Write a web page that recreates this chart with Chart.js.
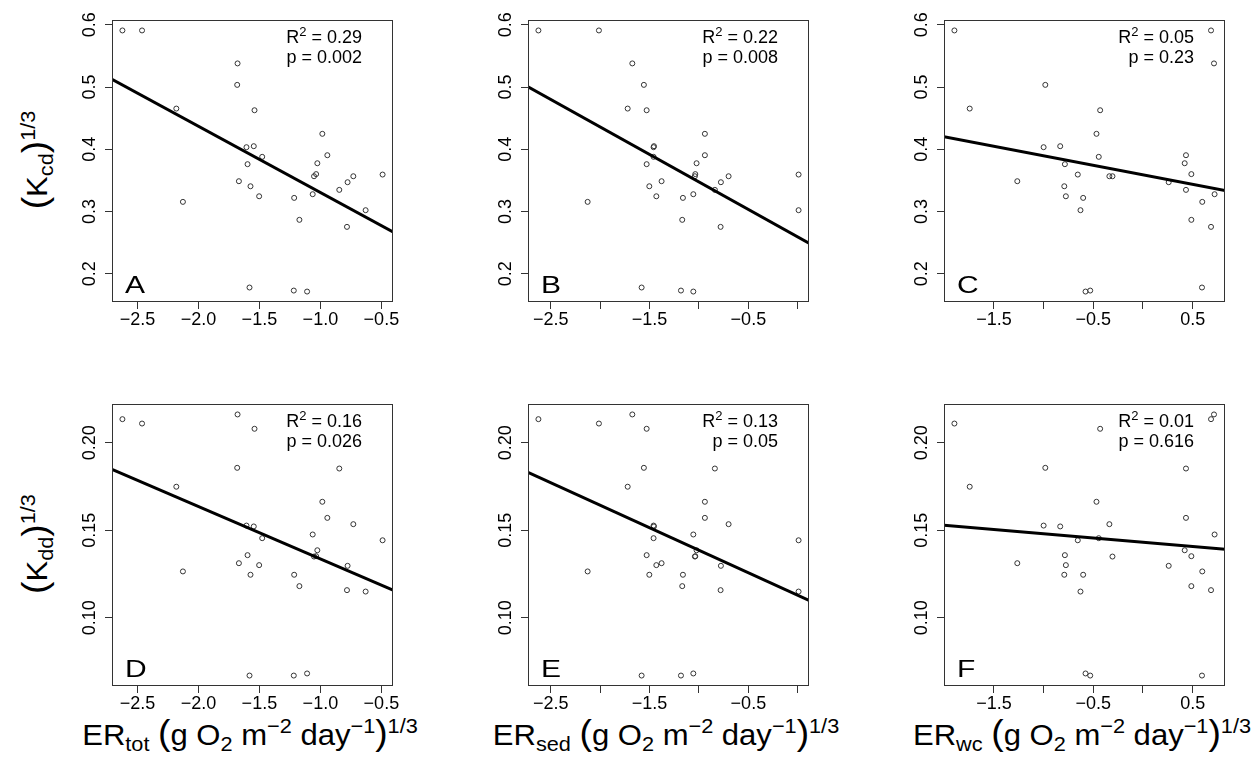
<!DOCTYPE html>
<html lang="en">
<head>
<meta charset="UTF-8">
<title>Kcd and Kdd against ER</title>
<script src="https://cdn.jsdelivr.net/npm/chart.js"></script>
<style>
    body { margin: 0; background: #fff; }
    #fig { position: relative; width: 1258px; height: 757px; overflow: hidden;
           font-family: "Liberation Sans", Arial, sans-serif; color: #000; }
    #fig canvas { position: absolute; }
    .xtitle, .ytitle { position: absolute; white-space: nowrap; font-size: 29px; line-height: 29px; }
    .xtitle { width: 420px; text-align: center; transform: scaleX(1.07); }
    .ytitle { transform: translate(-50%, -50%) rotate(-90deg) scaleX(1.07); }
    sub, sup { font-size: 0.7em; line-height: 0; }
    sub { vertical-align: -0.3em; }
    sup { vertical-align: 0.6em; }
    .par { font-size: 1.2em; }
</style>
</head>
<body>
<div id="fig">
    <div class="ytitle" style="left:36px; top:160px;"><span class="par">(</span>K<sub>cd</sub><span class="par">)</span><sup>1/3</sup></div>
    <div class="ytitle" style="left:36px; top:544px;"><span class="par">(</span>K<sub>dd</sub><span class="par">)</span><sup>1/3</sup></div>
    <div class="xtitle" style="left:40px; top:718px;">ER<sub>tot</sub> <span class="par">(</span>g O<sub>2</sub> m<sup>&minus;2</sup> day<sup>&minus;1</sup><span class="par">)</span><sup>1/3</sup></div>
    <div class="xtitle" style="left:456px; top:718px;">ER<sub>sed</sub> <span class="par">(</span>g O<sub>2</sub> m<sup>&minus;2</sup> day<sup>&minus;1</sup><span class="par">)</span><sup>1/3</sup></div>
    <div class="xtitle" style="left:872px; top:718px;">ER<sub>wc</sub> <span class="par">(</span>g O<sub>2</sub> m<sup>&minus;2</sup> day<sup>&minus;1</sup><span class="par">)</span><sup>1/3</sup></div>
</div>

<script>
    // one value per site, same order in every array
    const kcd = [0.591, 0.591, 0.538, 0.5035, 0.4654, 0.4627, 0.4248, 0.4049, 0.4033, 0.3904, 0.3878,
                 0.3775, 0.376, 0.3593, 0.360, 0.3566, 0.3566, 0.3486, 0.347, 0.3405, 0.3347, 0.3277,
                 0.3244, 0.3218, 0.3154, 0.302, 0.2865, 0.2752, 0.1777, 0.1728, 0.1712];
    const kdd = [0.2135, 0.2110, 0.2162, 0.1857, 0.1749, 0.2080, 0.1663, 0.1522, 0.1527, 0.1571, 0.1455,
                 0.1386, 0.1358, 0.1443, 0.1352, 0.1350, 0.1535, 0.1312, 0.1297, 0.1246, 0.1853, 0.1476,
                 0.1301, 0.1246, 0.1265, 0.1150, 0.1181, 0.1158, 0.0670, 0.0670, 0.0682];
    const erTot = [-2.623, -2.462, -1.679, -1.682, -2.181, -1.540, -0.984, -1.546, -1.606, -0.943, -1.477,
                   -1.025, -1.597, -0.490, -1.035, -1.052, -0.730, -1.668, -0.777, -1.573, -0.845, -1.063,
                   -1.502, -1.215, -2.127, -0.629, -1.172, -0.782, -1.581, -1.218, -1.109];
    const erSed = [-2.624, -2.012, -1.674, -1.557, -1.721, -1.529, -0.940, -1.455, -1.459, -0.940, -1.459,
                   -1.024, -1.529, 0.008, -1.037, -1.041, -0.700, -1.378, -0.778, -1.502, -0.839, -1.057,
                   -1.431, -1.162, -2.126, 0.008, -1.169, -0.781, -1.580, -1.182, -1.057];
    const erWc = [0.685, -1.898, 0.715, -0.983, -1.744, -0.431, -0.468, -0.833, -1.000, 0.433, -0.445,
                  0.420, -0.786, -0.656, 0.487, -0.307, -0.338, -1.265, 0.259, -0.792, 0.433, 0.721,
                  -0.776, -0.602, 0.597, -0.629, 0.487, 0.685, 0.594, -0.531, -0.578];

    // fitted lines [intercept, slope], panels A-F
    const fits = [[0.224, -0.1065], [0.2588, -0.0885], [0.359, -0.0306],
                  [0.1037, -0.02995], [0.1129, -0.0257], [0.1432, -0.00486]];
    const r2Text = ['0.29', '0.22', '0.05', '0.16', '0.13', '0.01'];
    const pText = ['0.002', '0.008', '0.23', '0.026', '0.05', '0.616'];
    const letters = ['A', 'B', 'C', 'D', 'E', 'F'];

    // ticks and their labels ('' = tick without label)
    const totTicks = [-2.5, -2.0, -1.5, -1.0, -0.5];
    const totLabels = ['\u22122.5', '\u22122.0', '\u22121.5', '\u22121.0', '\u22120.5'];
    const sedTicks = [-2.5, -2.0, -1.5, -1.0, -0.5, 0.0];
    const sedLabels = ['\u22122.5', '', '\u22121.5', '', '\u22120.5', ''];
    const wcTicks = [-1.5, -1.0, -0.5, 0.0, 0.5];
    const wcLabels = ['\u22121.5', '', '\u22120.5', '', '0.5'];
    const kcdTicks = [0.2, 0.3, 0.4, 0.5, 0.6];
    const kcdLabels = ['0.2', '0.3', '0.4', '0.5', '0.6'];
    const kddTicks = [0.10, 0.15, 0.20];
    const kddLabels = ['0.10', '0.15', '0.20'];

    // layout
    const boxLeft = [112, 528, 944];
    const boxTop = [20, 404];
    const boxW = 281, boxH = 282;
    const yAxisW = 60, xAxisH = 45, padTop = 20, padRight = 20;

    Chart.defaults.font.family = '"Liberation Sans", Arial, sans-serif';
    Chart.defaults.font.size = 18;
    Chart.defaults.color = '#000';

    function rRange(v) {
        const lo = Math.min(...v), hi = Math.max(...v), d = (hi - lo) * 0.04;
        return [lo - d, hi + d];
    }

    const frameAndText = {
        id: 'frameAndText',
        afterDatasetsDraw(chart) {
            const a = chart.chartArea, ctx = chart.ctx, o = chart.options.plugins.frameAndText;
            ctx.save();
            ctx.strokeStyle = '#333';
            ctx.lineWidth = 1;
            ctx.strokeRect(Math.round(a.left) + 0.5, Math.round(a.top) + 0.5,
                           Math.round(a.right - a.left) - 1, Math.round(a.bottom - a.top) - 1);
            ctx.fillStyle = '#000';
            ctx.textBaseline = 'alphabetic';

            // panel letter, a little wide like the original
            ctx.save();
            ctx.translate(a.left + 13, a.bottom - 9);
            ctx.scale(1.25, 1);
            ctx.font = '24px "Liberation Sans", Arial, sans-serif';
            ctx.textAlign = 'left';
            ctx.fillText(o.letter, 0, 0);
            ctx.restore();

            const xr = a.right - 31;
            const big = '18px "Liberation Sans", Arial, sans-serif';
            const small = '13px "Liberation Sans", Arial, sans-serif';
            ctx.font = big;
            const tail = ' = ' + o.r2;
            const wTail = ctx.measureText(tail).width;
            const wR = ctx.measureText('R').width;
            ctx.font = small;
            const w2 = ctx.measureText('2').width;
            const x = xr - wTail - w2 - wR;
            ctx.font = big;
            ctx.textAlign = 'left';
            ctx.fillText('R', x, a.top + 23);
            ctx.font = small;
            ctx.fillText('2', x + wR, a.top + 16);
            ctx.font = big;
            ctx.fillText(tail, x + wR + w2, a.top + 23);
            ctx.textAlign = 'right';
            ctx.fillText('p = ' + o.p, xr, a.top + 43);
            ctx.restore();
        }
    };

    const panels = [
        { x: erTot, y: kcd, xt: totTicks, xl: totLabels, yt: kcdTicks, yl: kcdLabels },
        { x: erSed, y: kcd, xt: sedTicks, xl: sedLabels, yt: kcdTicks, yl: kcdLabels },
        { x: erWc,  y: kcd, xt: wcTicks,  xl: wcLabels,  yt: kcdTicks, yl: kcdLabels },
        { x: erTot, y: kdd, xt: totTicks, xl: totLabels, yt: kddTicks, yl: kddLabels },
        { x: erSed, y: kdd, xt: sedTicks, xl: sedLabels, yt: kddTicks, yl: kddLabels },
        { x: erWc,  y: kdd, xt: wcTicks,  xl: wcLabels,  yt: kddTicks, yl: kddLabels }
    ];

    const fig = document.getElementById('fig');

    panels.forEach((p, i) => {
        const col = i % 3, row = Math.floor(i / 3);
        const canvas = document.createElement('canvas');
        canvas.width = yAxisW + boxW + padRight;
        canvas.height = padTop + boxH + xAxisH;
        canvas.style.left = (boxLeft[col] - yAxisW) + 'px';
        canvas.style.top = (boxTop[row] - padTop) + 'px';
        fig.appendChild(canvas);

        const [xmin, xmax] = rRange(p.x);
        const [ymin, ymax] = rRange(p.y);
        const [b0, b1] = fits[i];
        const points = p.x.map((v, k) => ({ x: v, y: p.y[k] }));
        const yPad = row === 0 ? 2.5 : -2.5;

        new Chart(canvas, {
            type: 'scatter',
            data: {
                datasets: [{
                    data: [{ x: xmin, y: b0 + b1 * xmin }, { x: xmax, y: b0 + b1 * xmax }],
                    showLine: true,
                    borderColor: '#000',
                    borderWidth: 3,
                    pointRadius: 0
                }, {
                    data: points,
                    pointStyle: 'circle',
                    pointRadius: 2.5,
                    borderWidth: 1,
                    borderColor: '#333',
                    backgroundColor: 'rgba(0,0,0,0)'
                }]
            },
            options: {
                responsive: false,
                animation: false,
                events: [],
                layout: { padding: { top: padTop, right: padRight, left: 0, bottom: 0 } },
                plugins: {
                    legend: { display: false },
                    tooltip: { enabled: false },
                    frameAndText: { letter: letters[i], r2: r2Text[i], p: pText[i] }
                },
                scales: {
                    x: {
                        type: 'linear',
                        min: xmin,
                        max: xmax,
                        border: { display: false },
                        grid: { drawOnChartArea: false, tickLength: 7, color: '#333' },
                        afterBuildTicks: ax => { ax.ticks = p.xt.map(v => ({ value: v })); },
                        afterFit: ax => { ax.height = xAxisH; },
                        ticks: { padding: 0, maxRotation: 0, autoSkip: false,
                                 callback: (v, k) => p.xl[k] }
                    },
                    y: {
                        type: 'linear',
                        min: ymin,
                        max: ymax,
                        border: { display: false },
                        grid: { drawOnChartArea: false, tickLength: 7, color: '#333' },
                        afterBuildTicks: ax => { ax.ticks = p.yt.map(v => ({ value: v })); },
                        afterFit: ax => { ax.width = yAxisW; },
                        ticks: { padding: yPad, minRotation: 90, maxRotation: 90, crossAlign: 'center',
                                 autoSkip: false, callback: (v, k) => p.yl[k] }
                    }
                }
            },
            plugins: [frameAndText]
        });
    });
</script>
</body>
</html>
